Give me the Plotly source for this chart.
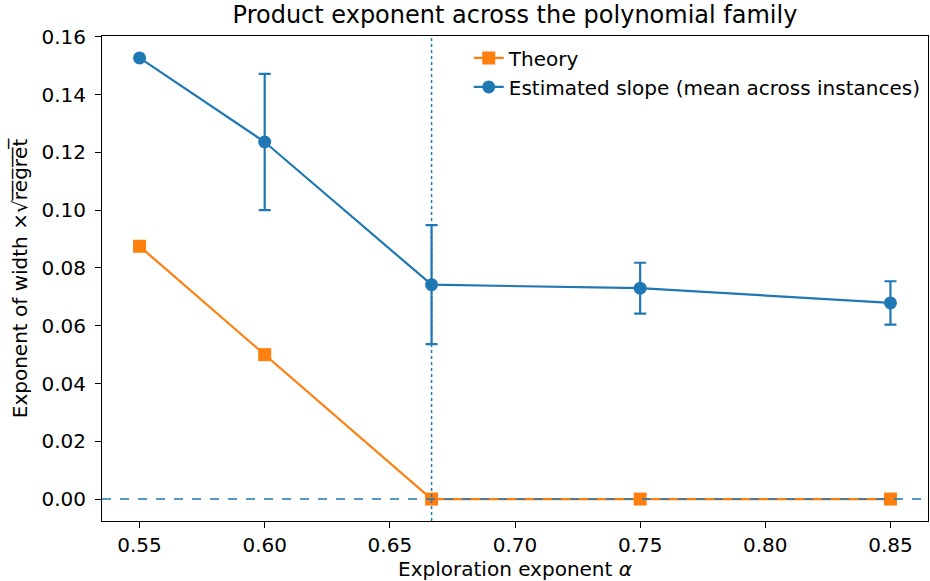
import plotly.graph_objects as go

alpha = [0.55, 0.60, 2/3, 0.75, 0.85]
theory = [0.0875, 0.05, 0.0, 0.0, 0.0]
est_mean = [0.1527, 0.1236, 0.0742, 0.0730, 0.0679]
est_err = [0.0, 0.0236, 0.0206, 0.0088, 0.0075]
xticks = [0.55, 0.60, 0.65, 0.70, 0.75, 0.80, 0.85]
yticks = [0.00, 0.02, 0.04, 0.06, 0.08, 0.10, 0.12, 0.14, 0.16]
critical_alpha = 2/3

C0 = "#1f77b4"
C1 = "#ff7f0e"
FONT = "DejaVu Sans"

fig = go.Figure()
fig.add_trace(go.Scatter(
    x=alpha, y=theory, mode="lines+markers", name="Theory",
    line=dict(color=C1, width=2.2),
    marker=dict(symbol="square", size=13, color=C1),
))
fig.add_trace(go.Scatter(
    x=alpha, y=est_mean, mode="lines+markers",
    name="Estimated slope (mean across instances)",
    line=dict(color=C0, width=2.2),
    marker=dict(symbol="circle", size=13, color=C0),
    error_y=dict(type="data", array=est_err, visible=True, color=C0,
                 thickness=2.2, width=6),
))

fig.add_shape(type="line", xref="x", yref="paper", x0=critical_alpha, x1=critical_alpha,
              y0=0, y1=1, line=dict(color=C0, width=1.5, dash="dot"), layer="above")
fig.add_shape(type="line", xref="paper", yref="y", x0=0, x1=1, y0=0, y1=0,
              line=dict(color=C0, width=1.5, dash="dash"), layer="above")

axis_common = dict(
    showgrid=False, zeroline=False, showline=True, linecolor="black", linewidth=1.1,
    mirror=True, ticks="outside", ticklen=6, tickwidth=1.1, tickcolor="black",
    tickfont=dict(family=FONT, size=20, color="black"),
)

fig.update_layout(
    width=930, height=581,
    margin=dict(l=102, r=2, t=36, b=60),
    paper_bgcolor="white", plot_bgcolor="white",
    font=dict(family=FONT, size=20, color="black"),
    title=dict(text="Product exponent across the polynomial family",
               x=0.5, xref="paper", xanchor="center",
               y=1 - 15/581, yref="container", yanchor="middle",
               font=dict(family=FONT, size=24, color="black")),
    xaxis=dict(range=[0.535, 0.865], tickvals=xticks, tickformat=".2f",
               title=dict(text="Exploration exponent <i>α</i>", standoff=6,
                          font=dict(family=FONT, size=20)),
               ticklabelstandoff=0, **axis_common),
    yaxis=dict(range=[-0.0076, 0.1603], tickvals=yticks, tickformat=".2f",
               title=dict(text="Exponent of width ×√r\u0305e\u0305g\u0305r\u0305e\u0305t\u0305",
                          standoff=8, font=dict(family=FONT, size=20)),
               ticklabelstandoff=5, **axis_common),
    showlegend=True,
    legend=dict(x=0.444, y=0.995, xanchor="left", yanchor="top",
                bgcolor="rgba(255,255,255,0)", borderwidth=0,
                font=dict(family=FONT, size=20, color="black"),
                traceorder="normal"),
)

fig.write_html("out.html")
